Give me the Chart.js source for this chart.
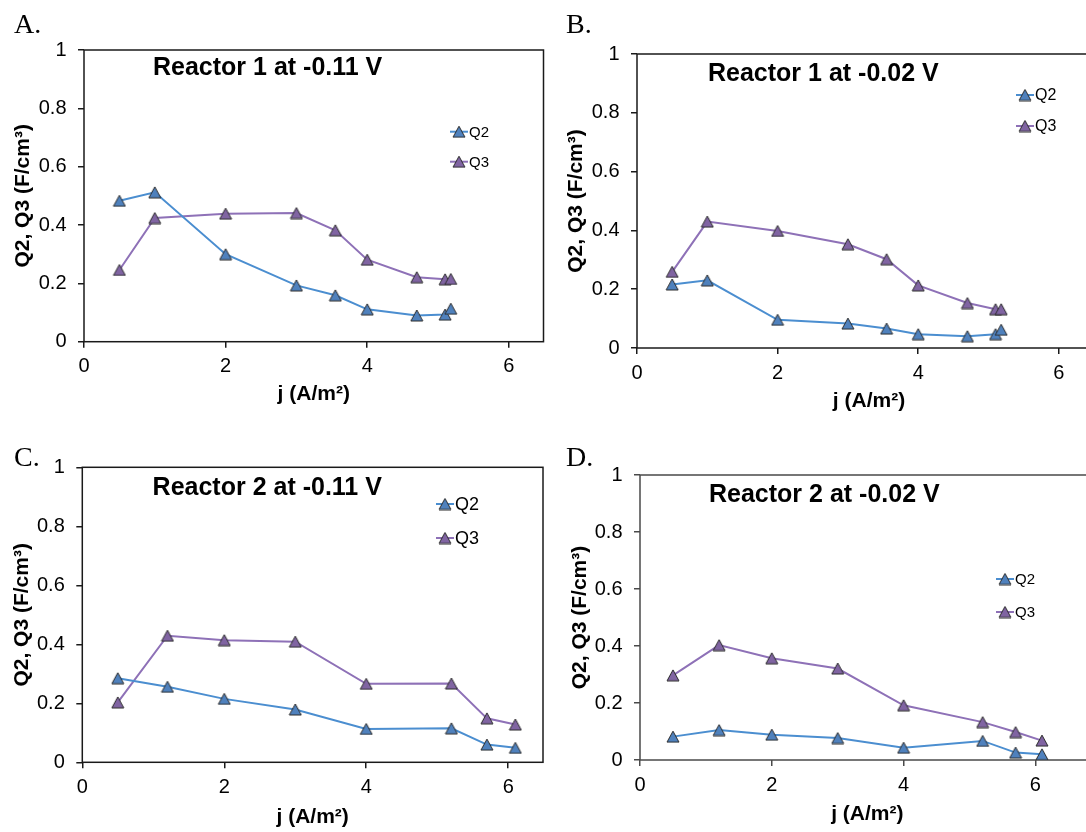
<!DOCTYPE html>
<html><head><meta charset="utf-8">
<script src="https://cdn.jsdelivr.net/npm/chart.js@4.4.0/dist/chart.umd.min.js"></script>
<style>
html,body{margin:0;padding:0;background:#fff;width:1086px;height:832px;overflow:hidden;position:relative}
canvas{position:absolute;display:block}
</style></head><body>
<canvas id="cA"></canvas><canvas id="cB"></canvas><canvas id="cC"></canvas><canvas id="cD"></canvas>
<script>
// ---- data ----
const jReactor1 = [0.5, 1.0, 2.0, 3.0, 3.55, 4.0, 4.7, 5.1, 5.18];
const jReactor2 = [0.5, 1.2, 2.0, 3.0, 4.0, 5.2, 5.7, 6.1];
const q2A = [0.483, 0.512, 0.300, 0.193, 0.159, 0.111, 0.090, 0.093, 0.113];
const q3A = [0.246, 0.424, 0.439, 0.441, 0.382, 0.281, 0.221, 0.214, 0.215];
const q2B = [0.216, 0.230, 0.096, 0.083, 0.066, 0.047, 0.040, 0.047, 0.062];
const q3B = [0.259, 0.430, 0.398, 0.353, 0.302, 0.213, 0.153, 0.132, 0.132];
const q2C = [0.285, 0.256, 0.215, 0.179, 0.113, 0.115, 0.060, 0.049];
const q3C = [0.203, 0.429, 0.414, 0.409, 0.266, 0.267, 0.149, 0.128];
const q2D = [0.082, 0.105, 0.089, 0.077, 0.043, 0.067, 0.026, 0.020];
const q3D = [0.297, 0.403, 0.357, 0.321, 0.192, 0.133, 0.098, 0.068];
const yTickValues = [0, 0.2, 0.4, 0.6, 0.8, 1];
const xTickValues = [0, 2, 4, 6];
const seriesNames = ['Q2', 'Q3'];
const panelLetters = ['A.', 'B.', 'C.', 'D.'];
const panelTitles = ['Reactor 1 at -0.11 V', 'Reactor 1 at -0.02 V', 'Reactor 2 at -0.11 V', 'Reactor 2 at -0.02 V'];
const xAxisTitle = 'j (A/m²)';
const yAxisTitle = 'Q2, Q3 (F/cm³)';

// ---- styles / layout ----
const SANS = '"Liberation Sans", Arial, Helvetica, sans-serif';
const SERIF = '"Liberation Serif", "Times New Roman", serif';
const lineColors = ['#4b8ed0', '#8e71b7'];
const markerColors = ['#4f81bd', '#8064a2'];

function triImg(fill) {
  const c = document.createElement('canvas');
  c.width = 14; c.height = 13;
  const g = c.getContext('2d');
  g.beginPath();
  g.moveTo(7, 1); g.lineTo(13, 12); g.lineTo(1, 12); g.closePath();
  g.fillStyle = fill; g.fill();
  g.strokeStyle = '#2a2a2a'; g.lineWidth = 1; g.stroke();
  return c;
}
const markers = markerColors.map(triImg);

const panels = [
  {id:'cA', left:0, top:0, w:560, h:416, L:84, T:50, R:543.5, B:341.7, xMax:6.49, frame:'#1a1a1a',
   yPad:10.9, xPad:9.4, xs:jReactor1, q2:q2A, q3:q3A,
   title:{x:153, y:74.5}, legend:{x:450, y:131.7, dy:30, size:15}, letter:{x:14, y:33}},
  {id:'cB', left:545, top:0, w:565, h:416, L:637, T:54, R:1102, B:348, xMax:6.6, frame:'#1a1a1a',
   yPad:18.9, xPad:1.8, xs:jReactor1, q2:q2B, q3:q3B,
   title:{x:708, y:81}, legend:{x:1016, y:95, dy:31, size:16}, letter:{x:566, y:33}},
  {id:'cC', left:0, top:416, w:560, h:416, L:82.3, T:467.3, R:543, B:762.3, xMax:6.49, frame:'#1a1a1a',
   yPad:10, xPad:1.7, xs:jReactor2, q2:q2C, q3:q3C,
   title:{x:152.6, y:495}, legend:{x:436, y:504, dy:34, size:18}, letter:{x:14, y:466}},
  {id:'cD', left:545, top:416, w:565, h:416, L:640, T:475, R:1094.7, B:760, xMax:6.9, frame:'#4a4a4a',
   yPad:22.9, xPad:5.4, xs:jReactor2, q2:q2D, q3:q3D,
   title:{x:709, y:502}, legend:{x:996, y:579, dy:33, size:15}, letter:{x:566, y:466}}
];

const framePlugin = {
  id: 'frame',
  beforeDatasetsDraw(chart, args, opts) {
    const a = chart.chartArea, ctx = chart.ctx;
    ctx.save();
    ctx.strokeStyle = opts.color; ctx.lineWidth = 1.5;
    ctx.strokeRect(a.left, a.top, a.right - a.left, a.bottom - a.top);
    ctx.restore();
  }
};
const textPlugin = {
  id: 'panelText',
  afterDraw(chart, args, o) {
    const ctx = chart.ctx;
    ctx.save();
    ctx.fillStyle = '#000';
    ctx.textBaseline = 'alphabetic'; ctx.textAlign = 'left';
    ctx.font = '28px ' + SERIF;
    ctx.fillText(o.letter, o.lx, o.ly);
    ctx.font = 'bold 25px ' + SANS;
    ctx.fillText(o.title, o.tx, o.ty);
    // legend
    ctx.textBaseline = 'middle';
    ctx.font = o.size + 'px ' + SANS;
    seriesNames.forEach((nm, i) => {
      const y = o.gy + i * o.dy;
      ctx.strokeStyle = lineColors[i]; ctx.lineWidth = 2;
      ctx.beginPath(); ctx.moveTo(o.gx, y); ctx.lineTo(o.gx + 18, y); ctx.stroke();
      const m = markers[i];
      ctx.drawImage(m, o.gx + 9 - m.width / 2, y - m.height / 2);
      ctx.fillStyle = '#000';
      ctx.fillText(nm, o.gx + 19, y + 1);
    });
    ctx.restore();
  }
};

panels.forEach((p, k) => {
  const cv = document.getElementById(p.id);
  cv.width = p.w; cv.height = p.h;
  cv.style.left = p.left + 'px'; cv.style.top = p.top + 'px';
  cv.style.width = p.w + 'px'; cv.style.height = p.h + 'px';
  const mk = (ys, i) => ({
    label: seriesNames[i],
    data: p.xs.map((x, j) => ({x, y: ys[j]})),
    borderColor: lineColors[i], borderWidth: 2,
    pointStyle: markers[i], pointRadius: 7, pointHoverRadius: 7,
    backgroundColor: markerColors[i], tension: 0
  });
  new Chart(cv, {
    type: 'line',
    data: { datasets: [mk(p.q2, 0), mk(p.q3, 1)] },
    plugins: [framePlugin, textPlugin],
    options: {
      responsive: false, animation: false, devicePixelRatio: 1,
      layout: { padding: { left: 0, top: p.T - p.top, right: p.w - (p.R - p.left), bottom: 0 } },
      scales: {
        x: {
          type: 'linear', min: 0, max: p.xMax,
          afterFit: s => { s.height = p.top + p.h - p.B; },
          afterBuildTicks: s => { s.ticks = xTickValues.map(v => ({value: v})); },
          ticks: { font: {family: SANS, size: 20}, color: '#000', padding: 7, callback: v => String(v), maxRotation: 0, autoSkip: false },
          grid: { display: true, drawOnChartArea: false, drawTicks: true, tickLength: 6, color: p.frame, lineWidth: 1.5 },
          border: { display: false },
          title: { display: true, text: xAxisTitle, color: '#000', font: {family: SANS, size: 21, weight: 'bold'}, padding: {top: 0, bottom: p.xPad} }
        },
        y: {
          type: 'linear', min: 0, max: 1,
          afterFit: s => { s.width = p.L - p.left; },
          afterBuildTicks: s => { s.ticks = yTickValues.map(v => ({value: v})); },
          ticks: { font: {family: SANS, size: 20}, color: '#000', padding: 11.5, callback: v => String(v), autoSkip: false },
          grid: { display: true, drawOnChartArea: false, drawTicks: true, tickLength: 6, color: p.frame, lineWidth: 1.5 },
          border: { display: false },
          title: { display: true, text: yAxisTitle, color: '#000', font: {family: SANS, size: 21, weight: 'bold'}, padding: {top: p.yPad, bottom: 0} }
        }
      },
      plugins: {
        legend: { display: false }, tooltip: { enabled: false },
        frame: { color: p.frame },
        panelText: { letter: panelLetters[k], lx: p.letter.x - p.left, ly: p.letter.y - p.top,
          title: panelTitles[k], tx: p.title.x - p.left, ty: p.title.y - p.top,
          gx: p.legend.x - p.left, gy: p.legend.y - p.top, dy: p.legend.dy, size: p.legend.size }
      }
    }
  });
});
</script>
</body></html>
